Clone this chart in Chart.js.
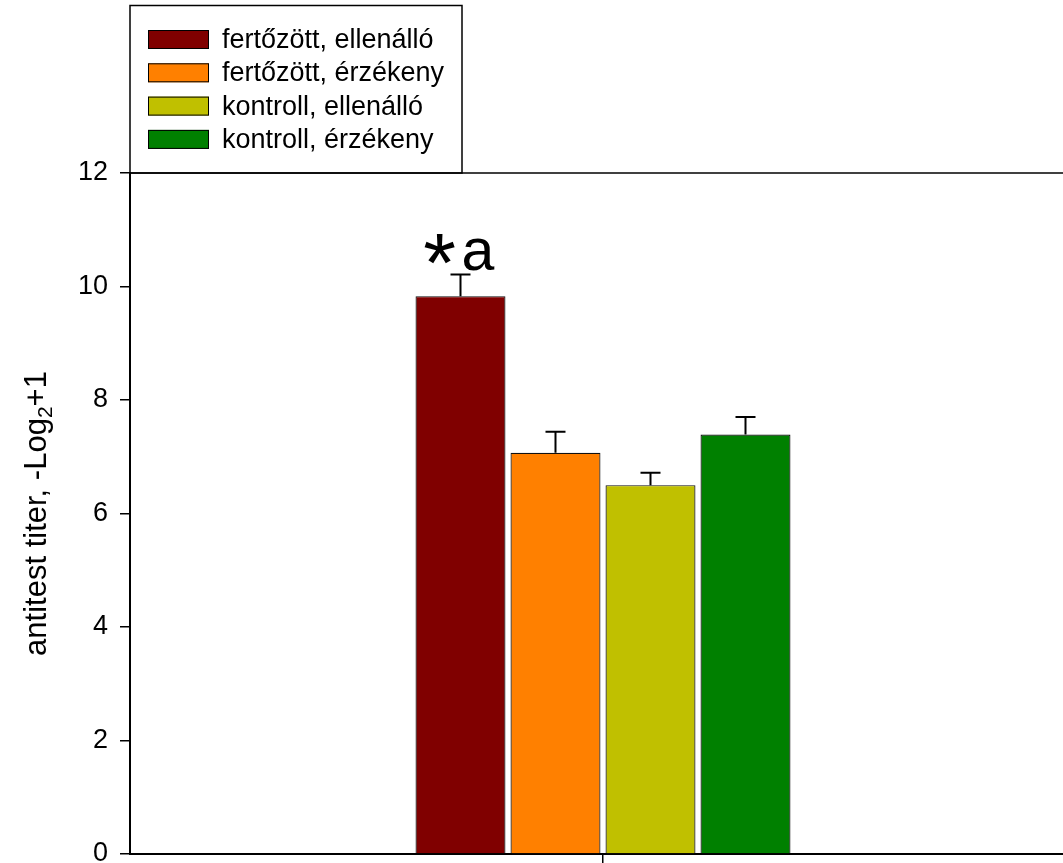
<!DOCTYPE html>
<html>
<head>
<meta charset="utf-8">
<script src="https://cdn.jsdelivr.net/npm/chart.js@4"></script>
<style>
  html, body { margin: 0; padding: 0; background: #fff; overflow: hidden; }
  #wrap { position: absolute; left: 0; top: 0; width: 1090px; height: 863px; }
</style>
</head>
<body>
<div id="wrap"><canvas id="c" width="1090" height="863"></canvas></div>
<script>
// Antibody titer by group (mean and upper SE)
const categories = [''];
const seriesNames = ['fertőzött, ellenálló', 'fertőzött, érzékeny', 'kontroll, ellenálló', 'kontroll, érzékeny'];
const seriesColors = ['#800000', '#FF8000', '#C0C000', '#008000'];
const meanValues = [9.83, 7.07, 6.50, 7.39];
const errorValues = [0.38, 0.37, 0.22, 0.31];
const barMarks = ['*a', '', '', ''];
const yTicks = [0, 2, 4, 6, 8, 10, 12];
const yTitleParts = ['antitest titer, -Log', '2', '+1'];

const FONT = '"Liberation Sans", Arial, sans-serif';

const datasets = seriesNames.map((name, i) => ({
  label: name,
  data: [meanValues[i]],
  err: [errorValues[i]],
  mark: barMarks[i],
  backgroundColor: seriesColors[i],
  borderColor: '#111',
  borderWidth: 1.2,
  categoryPercentage: 0.4017,
  barPercentage: 0.947
}));

// frame top line, boxed legend and the rotated y title with subscript
const decorPlugin = {
  id: 'decor',
  afterDraw(chart) {
    const ctx = chart.ctx;
    const a = chart.chartArea;
    ctx.save();
    ctx.strokeStyle = '#000';
    ctx.lineWidth = 1.5;
    ctx.beginPath();
    ctx.moveTo(a.left, a.top);
    ctx.lineTo(chart.width, a.top);
    ctx.stroke();

    // legend box
    ctx.lineWidth = 1.5;
    ctx.strokeRect(130, 5.5, 332, a.top - 5.5);
    ctx.font = '27px ' + FONT;
    ctx.textBaseline = 'middle';
    ctx.textAlign = 'left';
    chart.data.datasets.forEach((ds, i) => {
      const cy = 39.5 + i * 33.3;
      ctx.fillStyle = ds.backgroundColor;
      ctx.fillRect(148, cy - 9.5, 61, 19);
      ctx.lineWidth = 1;
      ctx.strokeStyle = '#000';
      ctx.strokeRect(148.5, cy - 9, 60, 18);
      ctx.fillStyle = '#000';
      ctx.fillText(ds.label, 222, cy + 1);
    });

    // y axis title
    ctx.translate(35, (a.top + a.bottom) / 2);
    ctx.rotate(-Math.PI / 2);
    const big = '31px ' + FONT, small = '21px ' + FONT;
    ctx.font = big;
    const w0 = ctx.measureText(yTitleParts[0]).width;
    const w2 = ctx.measureText(yTitleParts[2]).width;
    ctx.font = small;
    const w1 = ctx.measureText(yTitleParts[1]).width;
    let x = -(w0 + w1 + w2) / 2;
    ctx.textBaseline = 'alphabetic';
    ctx.fillStyle = '#000';
    ctx.font = big;
    ctx.fillText(yTitleParts[0], x, 11);
    x += w0;
    ctx.font = small;
    ctx.fillText(yTitleParts[1], x, 17);
    x += w1;
    ctx.font = big;
    ctx.fillText(yTitleParts[2], x, 11);
    ctx.restore();
  }
};

// upward error bars and significance marks
const errorPlugin = {
  id: 'errorBars',
  afterDatasetsDraw(chart) {
    const ctx = chart.ctx;
    const ys = chart.scales.y;
    ctx.save();
    chart.data.datasets.forEach((ds, i) => {
      const meta = chart.getDatasetMeta(i);
      meta.data.forEach((bar, j) => {
        const top = ys.getPixelForValue(ds.data[j] + ds.err[j]);
        ctx.strokeStyle = '#000';
        ctx.lineWidth = 2;
        ctx.beginPath();
        ctx.moveTo(bar.x, bar.y);
        ctx.lineTo(bar.x, top);
        ctx.moveTo(bar.x - 10, top);
        ctx.lineTo(bar.x + 10, top);
        ctx.stroke();
        if (ds.mark) {
          ctx.fillStyle = '#000';
          ctx.textAlign = 'left';
          ctx.textBaseline = 'alphabetic';
          // asterisk sits lower and larger than the letter
          ctx.font = '84px ' + FONT;
          const aw = ctx.measureText(ds.mark[0]).width;
          ctx.fillText(ds.mark[0], bar.x - 21 - aw / 2, top + 17);
          ctx.font = '59px ' + FONT;
          ctx.fillText(ds.mark.slice(1), bar.x + 1, top - 5);
        }
      });
    });
    ctx.restore();
  }
};

new Chart(document.getElementById('c'), {
  type: 'bar',
  data: { labels: categories, datasets },
  options: {
    responsive: false,
    devicePixelRatio: 1,
    animation: false,
    layout: { padding: { top: 173, right: 14, bottom: 0, left: 0 } },
    plugins: { legend: { display: false }, tooltip: { enabled: false } },
    scales: {
      x: {
        offset: true,
        grid: { display: true, offset: false, drawOnChartArea: false, drawTicks: true, tickLength: 12, color: '#000', lineWidth: 1.5 },
        border: { display: true, color: '#000', width: 2 },
        ticks: { display: false },
        afterFit(s) { s.height = 9; s.paddingLeft = 0; s.paddingRight = 0; }
      },
      y: {
        min: 0,
        max: 12,
        afterBuildTicks(s) { s.ticks = yTicks.map(v => ({ value: v })); },
        grid: { display: true, drawOnChartArea: false, drawTicks: true, tickLength: 10, color: '#000', lineWidth: 1.5 },
        border: { display: true, color: '#000', width: 2 },
        ticks: { color: '#000', font: { family: FONT, size: 27 }, padding: 12 },
        afterFit(s) { s.width = 130; s.paddingTop = 0; s.paddingBottom = 0; }
      }
    }
  },
  plugins: [decorPlugin, errorPlugin]
});
</script>
</body>
</html>
